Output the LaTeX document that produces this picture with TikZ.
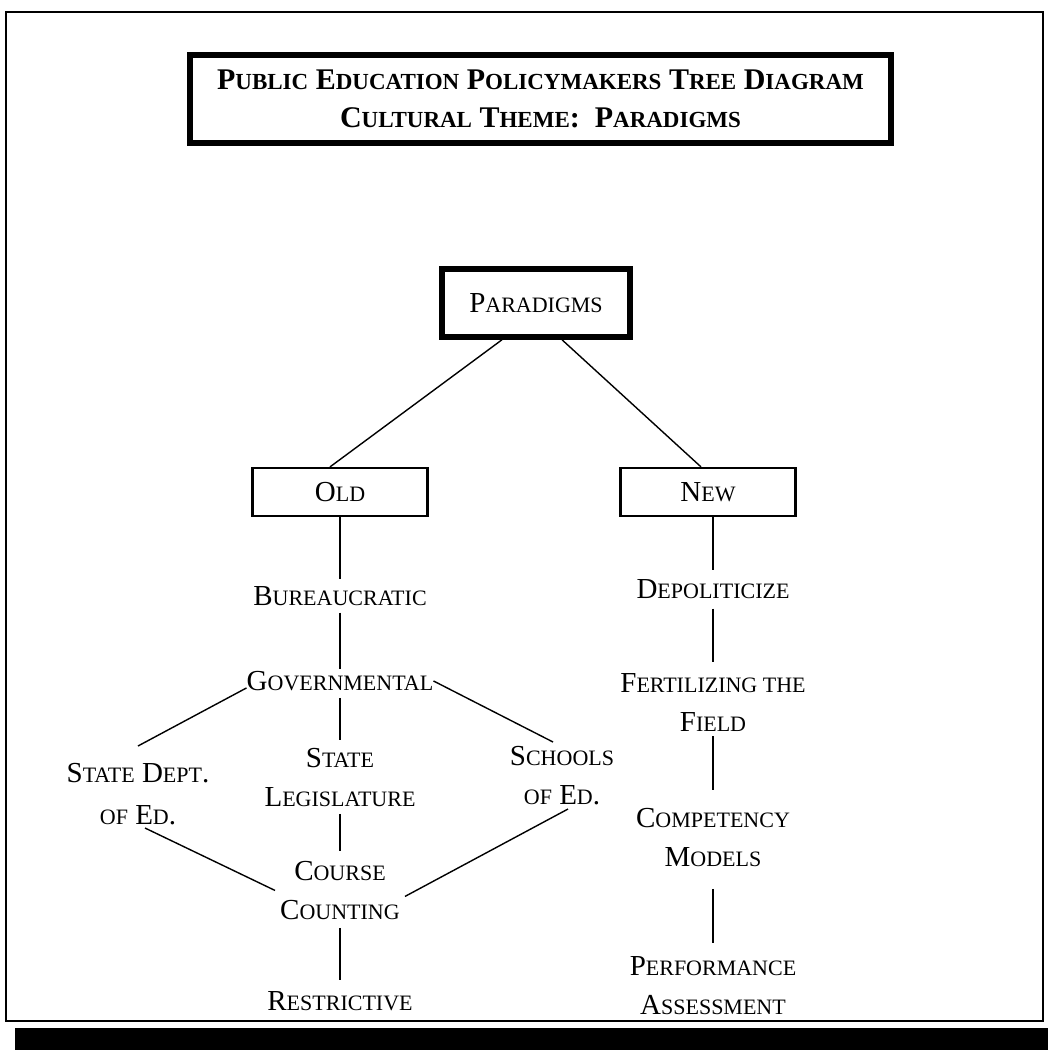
\documentclass[tikz,border=0pt]{standalone}
\usepackage{fontspec}
\setmainfont{Liberation Serif}
% small-caps built from two sizes of capitals
\newcommand\capsz{\fontsize{29}{39}\selectfont}
\newcommand\sm[1]{{\fontsize{22}{26}\selectfont #1}}
\newcommand\tcapsz{\fontsize{30}{38}\selectfont\bfseries}
\newcommand\tsm[1]{{\fontsize{23}{26}\selectfont #1}}
\begin{document}
\begin{tikzpicture}[x=1pt,y=-1pt,
  lbl/.style={inner sep=0pt, align=center, font=\capsz, anchor=north},
  box/.style={draw, line width=2.2pt, inner sep=0pt, font=\capsz},
  heavybox/.style={draw, line width=5.5pt, inner sep=0pt},
  link/.style={line width=1.4pt}]
\useasboundingbox (0,0) rectangle (1048,1055);
\fill[white] (0,0) rectangle (1048,1055);
% page frame and footer bar
\draw[line width=1.3pt] (6,12) rectangle (1043,1021);
\fill (15,1028) rectangle (1048,1050);

% heading
\node[heavybox, minimum width=701pt, minimum height=88pt, align=center, font=\tcapsz]
  (title) at (540.5,99)
  {P\tsm{UBLIC} E\tsm{DUCATION} P\tsm{OLICYMAKERS} T\tsm{REE} D\tsm{IAGRAM}\\
   C\tsm{ULTURAL} T\tsm{HEME}:\ \ P\tsm{ARADIGMS}};

% root and the two branches
\node[heavybox, minimum width=188pt, minimum height=68pt, font=\capsz] (par) at (536,303) {P\sm{ARADIGMS}};
\node[box, minimum width=175pt, minimum height=48pt] (old) at (340,492) {O\sm{LD}};
\node[box, minimum width=175pt, minimum height=48pt] (new) at (708,492) {N\sm{EW}};

% old paradigm
\node[lbl] (bureau)   at (340,586) {B\sm{UREAUCRATIC}};
\node[lbl] (gov)      at (340,671) {G\sm{OVERNMENTAL}};
\node[lbl, font=\fontsize{29}{42}\selectfont] (sdept) at (138,763) {S\sm{TATE} D\sm{EPT}.\\ \sm{OF} E\sm{D}.};
\node[lbl] (legis)    at (340,748) {S\sm{TATE}\\ L\sm{EGISLATURE}};
\node[lbl] (schools)  at (562,746) {S\sm{CHOOLS}\\ \sm{OF} E\sm{D}.};
\node[lbl] (course)   at (340,861) {C\sm{OURSE}\\ C\sm{OUNTING}};
\node[lbl] (restrict) at (340,991) {R\sm{ESTRICTIVE}};

% new paradigm
\node[lbl] (depol) at (713,579) {D\sm{EPOLITICIZE}};
\node[lbl] (fert)  at (713,673) {F\sm{ERTILIZING THE}\\ F\sm{IELD}};
\node[lbl] (comp)  at (713,808) {C\sm{OMPETENCY}\\ M\sm{ODELS}};
\node[lbl] (perf)  at (713,956) {P\sm{ERFORMANCE}\\ A\sm{SSESSMENT}};

% connectors
\draw[link] ([xshift=-34pt]par.south) -- ([xshift=-10pt]old.north);
\draw[link] ([xshift=26pt]par.south) -- ([xshift=-7pt]new.north);

\draw[link] (old.south) -- ([yshift=7pt]bureau.north);
\draw[link] ([yshift=-7pt]bureau.south) -- ([yshift=2pt]gov.north);
\draw[link] ([yshift=3pt]gov.south west) -- ([yshift=17pt]sdept.north);
\draw[link] (gov.east) -- ([xshift=-9pt,yshift=4pt]schools.north);
\draw[link] ([yshift=-7pt]gov.south) -- ([yshift=8pt]legis.north);
\draw[link] ([yshift=-7pt]legis.south) -- ([yshift=10pt]course.north);
\draw[link] ([xshift=7pt,yshift=-3pt]sdept.south) -- ([xshift=-5pt]course.west);
\draw[link] ([xshift=6pt,yshift=-4pt]schools.south) -- ([xshift=5pt,yshift=-6pt]course.east);
\draw[link] ([yshift=-8pt]course.south) -- ([yshift=11pt]restrict.north);

\draw[link] (new.south -| depol.north) -- ([yshift=9pt]depol.north);
\draw[link] ([yshift=-10pt]depol.south) -- ([yshift=11pt]fert.north);
\draw[link] ([yshift=-5pt]fert.south) -- ([yshift=18pt]comp.north);
\draw[link] ([yshift=-22pt]comp.south) -- ([yshift=13pt]perf.north);
\end{tikzpicture}
\end{document}
